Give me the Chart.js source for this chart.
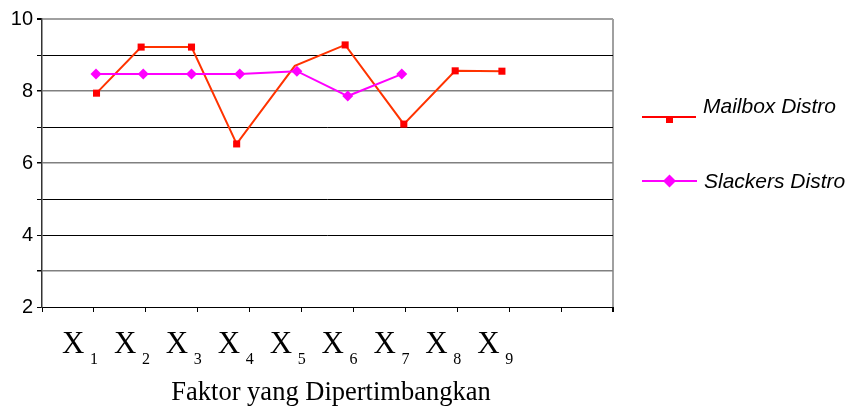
<!DOCTYPE html>
<html lang="id">
<head>
  <meta charset="UTF-8">
  <title>Faktor yang Dipertimbangkan</title>
  <script src="https://cdn.jsdelivr.net/npm/chart.js"></script>
  <style>
    html, body { margin: 0; padding: 0; background: #fff; }
    #wrap { width: 849px; height: 417px; }
  </style>
</head>
<body>
  <div id="wrap"><canvas id="chart" width="849" height="417"></canvas></div>

  <script>
    // Labels under the axis
    const factors = ['X1', 'X2', 'X3', 'X4', 'X5', 'X6', 'X7', 'X8', 'X9'];
    const axisTitle = 'Faktor yang Dipertimbangkan';
    const yLabels = [2, 4, 6, 8, 10];
    const seriesNames = ['Mailbox Distro', 'Slackers Distro'];

    // Mailbox Distro (x positions, they are not evenly spaced)
    const mailboxX = [1.05, 1.91, 2.88, 3.75, 4.87, 5.84, 6.97, 7.96, 8.86];
    const mailboxY = [7.94, 9.22, 9.22, 6.53, 8.70, 9.28, 7.08, 8.56, 8.55];

    // Slackers Distro
    const slackersX = [1.04, 1.95, 2.88, 3.81, 4.91, 5.89, 6.93];
    const slackersY = [8.47, 8.47, 8.47, 8.47, 8.55, 7.86, 8.47];

    const toPoints = (xs, ys) => xs.map((x, i) => ({ x: x, y: ys[i] }));

    // Draws the X1..X9 labels, the axis title and the legend
    const extras = {
      id: 'extras',
      afterDraw(chart) {
        const ctx = chart.ctx;
        const xs = chart.scales.x;
        ctx.save();
        ctx.fillStyle = '#000';
        ctx.textBaseline = 'alphabetic';
        ctx.textAlign = 'left';

        factors.forEach((f, i) => {
          const left = xs.getPixelForValue(i) + 20;
          ctx.font = '31px "Liberation Serif", "Times New Roman", serif';
          ctx.fillText(f.charAt(0), left, 353);
          ctx.font = '16px "Liberation Serif", "Times New Roman", serif';
          ctx.fillText(f.slice(1), left + 28, 364);
        });

        ctx.font = '26.5px "Liberation Serif", "Times New Roman", serif';
        ctx.textAlign = 'center';
        ctx.fillText(axisTitle, 331, 400);

        // legend
        ctx.textAlign = 'left';
        ctx.font = 'italic 21px "Liberation Sans", Arial, sans-serif';
        ctx.fillText(seriesNames[0], 703, 113);
        ctx.fillText(seriesNames[1], 704, 188);

        ctx.lineWidth = 2;
        ctx.strokeStyle = '#ff0000';
        ctx.beginPath();
        ctx.moveTo(642, 117);
        ctx.lineTo(696, 117);
        ctx.stroke();
        ctx.fillStyle = '#ff0000';
        ctx.fillRect(666, 116, 7, 7);

        ctx.strokeStyle = '#ff00ff';
        ctx.beginPath();
        ctx.moveTo(642, 181);
        ctx.lineTo(697, 181);
        ctx.stroke();
        ctx.fillStyle = '#ff00ff';
        ctx.beginPath();
        ctx.moveTo(669.5, 174.5);
        ctx.lineTo(676, 181);
        ctx.lineTo(669.5, 187.5);
        ctx.lineTo(663, 181);
        ctx.closePath();
        ctx.fill();
        ctx.restore();
      }
    };

    const ctx = document.getElementById('chart').getContext('2d');
    const chart = new Chart(ctx, {
      type: 'line',
      data: {
        datasets: [
          {
            label: seriesNames[1],
            data: toPoints(slackersX, slackersY),
            borderColor: '#ff00ff',
            backgroundColor: '#ff00ff',
            borderWidth: 2,
            pointStyle: 'rectRot',
            pointRadius: 5.5,
            pointBorderWidth: 0,
            tension: 0,
            order: 0
          },
          {
            label: seriesNames[0],
            data: toPoints(mailboxX, mailboxY),
            borderColor: '#ff3300',
            backgroundColor: '#ff0000',
            borderWidth: 2,
            pointStyle: 'rect',
            pointRadius: [5, 5, 5, 5, 0, 5, 5, 5, 5],
            pointBorderWidth: 0,
            tension: 0,
            order: 1
          }
        ]
      },
      options: {
        responsive: false,
        animation: false,
        layout: { padding: { top: 19, right: 236, left: 0, bottom: 0 } },
        plugins: {
          legend: { display: false },
          tooltip: { enabled: false }
        },
        scales: {
          x: {
            type: 'linear',
            min: 0,
            max: 11,
            ticks: { stepSize: 1, callback: () => '' },
            grid: {
              drawOnChartArea: true,
              color: c => (c.tick && c.tick.value === 11) ? '#a0a0a0' : 'rgba(0,0,0,0)',
              lineWidth: c => (c.tick && c.tick.value === 11) ? 2 : 1,
              tickColor: '#000',
              tickLength: 5
            },
            border: { color: '#000', width: 1 },
            afterFit: s => { s.height = 110; }
          },
          y: {
            min: 2,
            max: 10,
            ticks: {
              stepSize: 1,
              padding: 4,
              color: '#000',
              font: { family: '"Liberation Sans", Arial, sans-serif', size: 20 },
              callback: v => yLabels.includes(v) ? String(v) : ''
            },
            grid: {
              color: c => {
                const v = c.tick ? c.tick.value : 0;
                if (v === 10) return '#a0a0a0';
                return [8, 6, 3].includes(v) ? '#808080' : '#000';
              },
              lineWidth: c => {
                const v = c.tick ? c.tick.value : 0;
                if (v === 10) return 2;
                return [8, 6, 3].includes(v) ? 1.5 : 1;
              },
              tickColor: '#000',
              tickLength: 5
            },
            border: { color: '#333', width: 1.5 },
            afterFit: s => { s.width = 42; }
          }
        }
      },
      plugins: [extras]
    });
  </script>
</body>
</html>
